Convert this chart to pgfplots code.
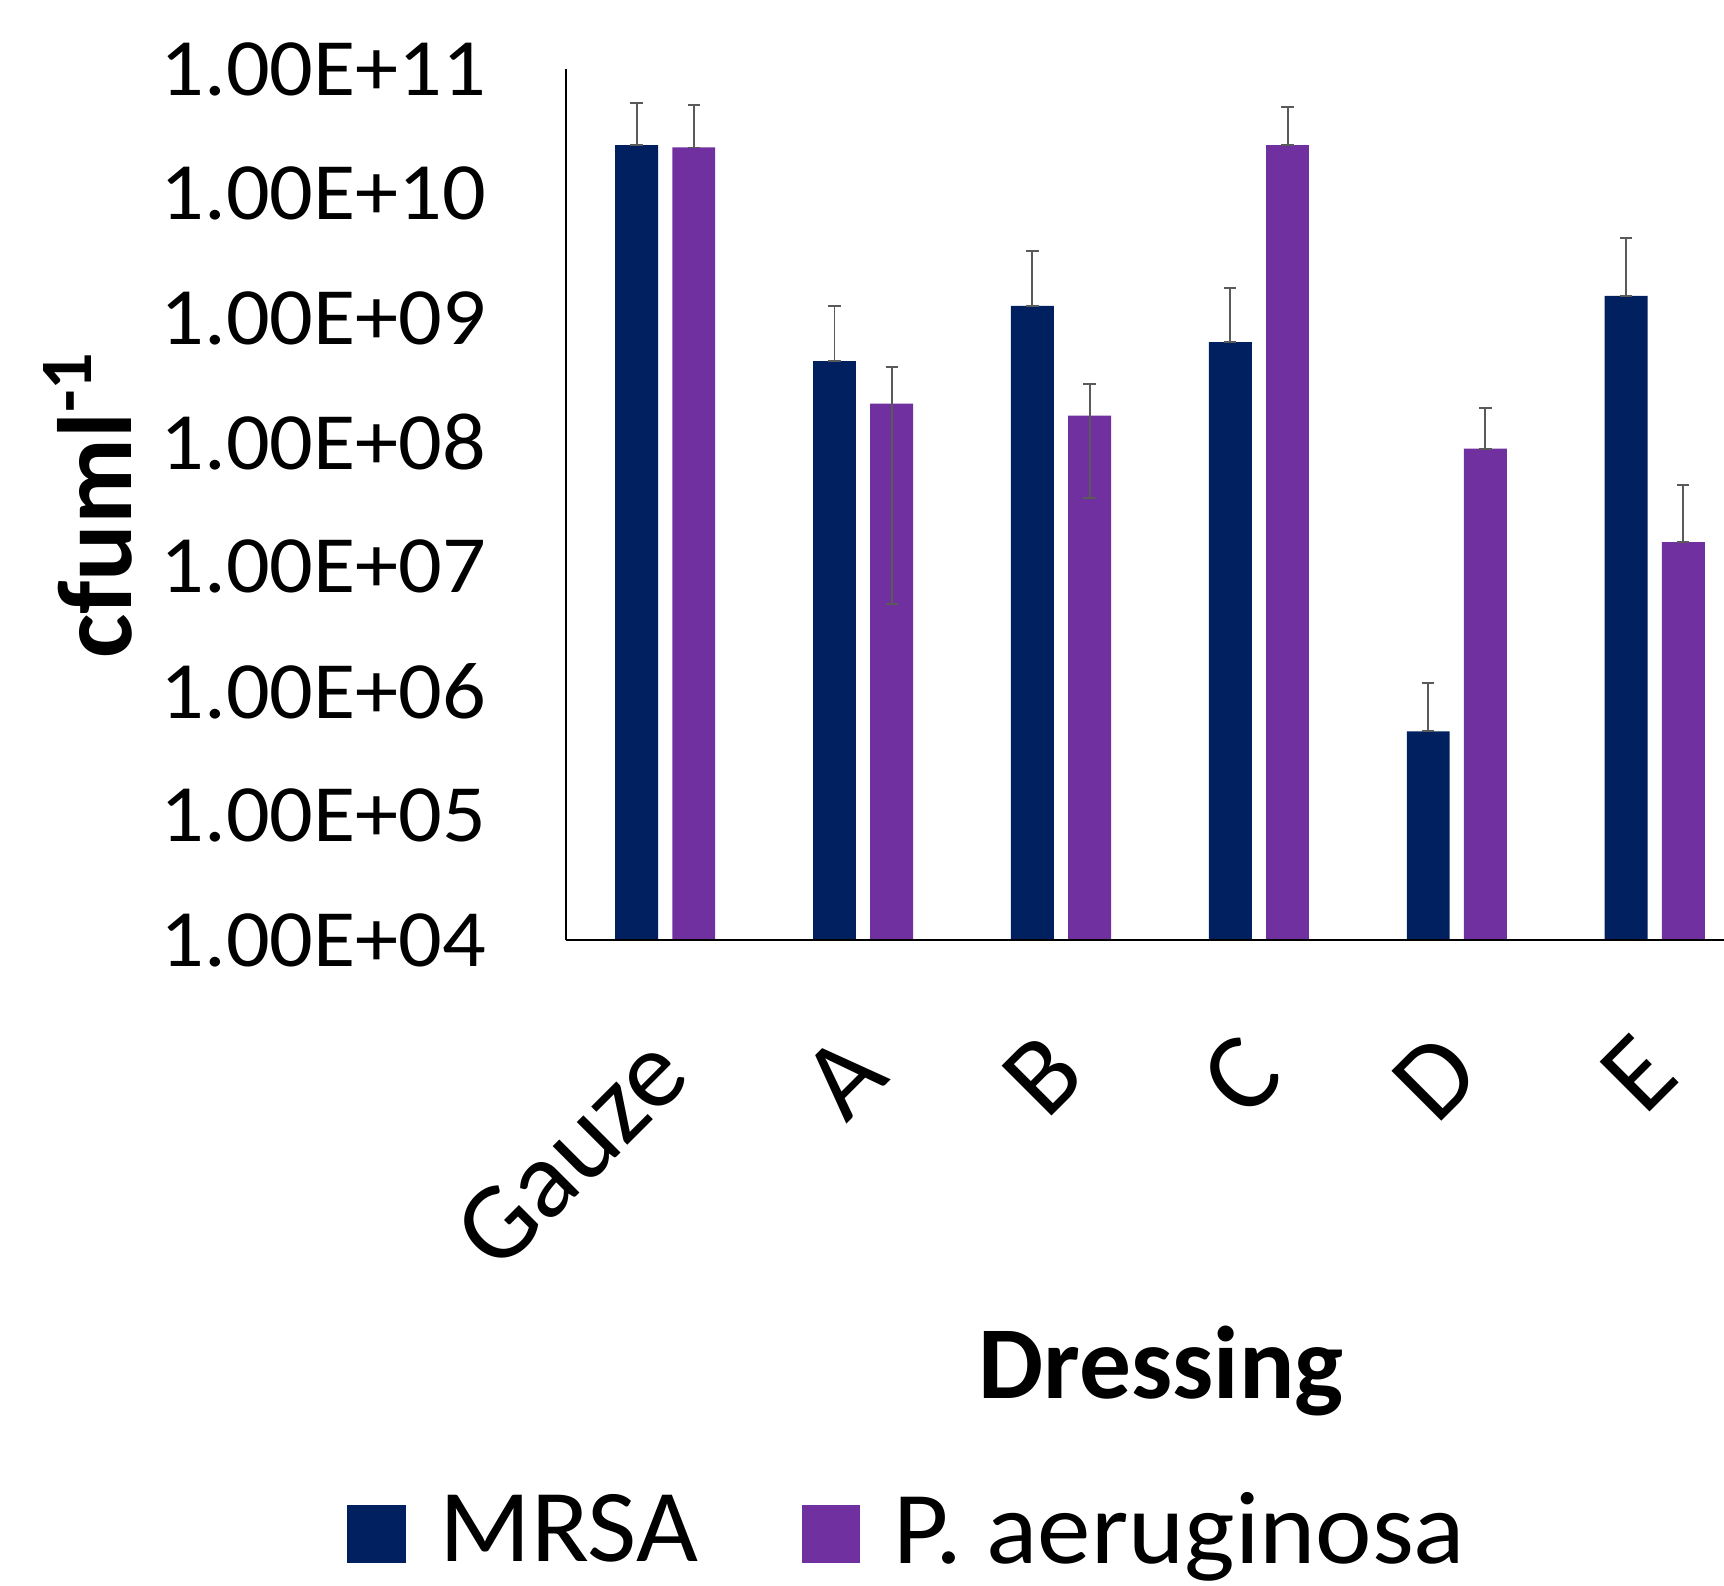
\documentclass[border=0pt]{standalone}
\usepackage{pgfplots}
\pgfplotsset{compat=1.18}
\usepackage{fontspec}
\setmainfont{Carlito}
\newfontfamily\tickfont[FakeStretch=1.06]{Carlito}
\newfontfamily\legfont[FakeStretch=1.035]{Carlito}
\definecolor{mrsa}{HTML}{002060}
\definecolor{pa}{HTML}{7030A0}
\definecolor{errc}{HTML}{5A5A5A}
\begin{document}
\begin{tikzpicture}
\begin{axis}[
  at={(0,0)}, anchor=south west,
  scale only axis, width=263.25pt, height=198pt,
  ymode=log, ymin=1e4, ymax=1e11,
  xmin=-0.5, xmax=5.35,
  ybar, bar width=9.75pt, ybar=3.25pt,
  axis on top,
  axis x line=bottom, axis y line=left,
  axis line style={-, black, line width=0.5pt},
  major tick length=0pt, minor tick length=0pt,
  ytick={1e4,1e5,1e6,1e7,1e8,1e9,1e10,1e11},
  yticklabels={1.00E+04,1.00E+05,1.00E+06,1.00E+07,1.00E+08,1.00E+09,1.00E+10,1.00E+11},
  yticklabel style={anchor=east, inner sep=0pt, xshift=-18pt, font=\tickfont\fontsize{18.5}{22}\selectfont},
  xtick={0,1,2,3,4,5},
  xticklabels={Gauze,A,B,C,D,E},
  xticklabel style={xshift=-5pt, yshift=-20pt, rotate=45, anchor=north east, inner sep=0pt, font=\fontsize{25}{30}\selectfont},
  error bars/y dir=both, error bars/y explicit,
  error bars/error bar style={errc, line width=0.45pt},
  error bars/error mark options={rotate=90, mark size=1.4pt, errc, line width=0.45pt},
  legend columns=2,
  legend style={at={(axis description cs:0.2938,-0.6785)}, anchor=center, draw=none, fill=none,
    font=\legfont\fontsize{23.5}{28}\selectfont, nodes={inner sep=0pt},
    /tikz/every odd column/.append style={column sep=7.75pt},
    /tikz/every even column/.append style={column sep=23.5pt}},
]
\addplot[fill=mrsa, draw=none, legend image code/.code={\fill[mrsa] (0pt,-7.3pt) rectangle (13.25pt,5.95pt);}]
  coordinates {
  (0,2.45e10) += (0,2.95e10) -= (0,0)
  (1,4.5e8)   += (0,8.0e8)   -= (0,0)
  (2,1.25e9)  += (0,2.22e9)  -= (0,0)
  (3,6.4e8)   += (0,1.1e9)   -= (0,0)
  (4,4.75e5)  += (0,6.85e5)  -= (0,0)
  (5,1.51e9)  += (0,2.93e9)  -= (0,0)
  };
\addlegendentry{MRSA}
\addplot[fill=pa, draw=none, legend image code/.code={\fill[pa] (0pt,-7.3pt) rectangle (13.25pt,5.95pt);}]
  coordinates {
  (0,2.35e10) += (0,2.85e10) -= (0,0)
  (1,2.05e8)  += (0,2.0e8)   -= (0,2.0e8)
  (2,1.64e8)  += (0,1.32e8)  -= (0,1.28e8)
  (3,2.45e10) += (0,2.55e10) -= (0,0)
  (4,8.9e7)   += (0,1.0e8)   -= (0,0)
  (5,1.58e7)  += (0,2.97e7)  -= (0,0)
  };
\addlegendentry{P. aeruginosa}
\end{axis}
\node[rotate=90, font=\bfseries\fontsize{24}{28}\selectfont] at (-108.7pt,99pt) {cfuml\textsuperscript{-1}};
\node[anchor=base, font=\bfseries\fontsize{23.5}{28}\selectfont] at (135.25pt,-104.25pt) {Dressing};
\pgfresetboundingbox
\path[use as bounding box] (-128.75pt,-146.75pt) rectangle (263.25pt,213.75pt);
\end{tikzpicture}
\end{document}
